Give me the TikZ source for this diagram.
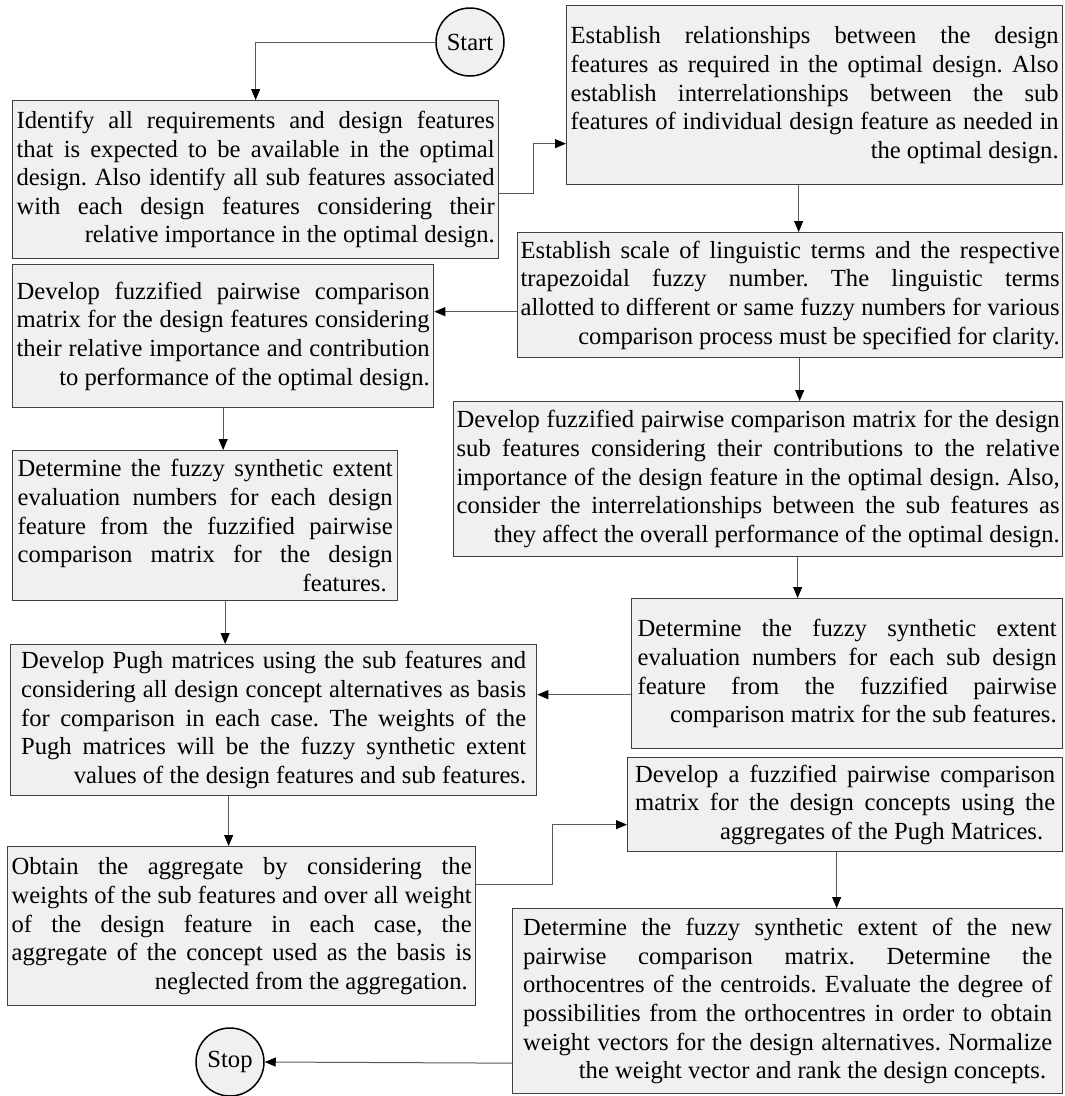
\documentclass[tikz,border=0pt]{standalone}
\usepackage{fontspec}
\setmainfont{Liberation Serif}[Ligatures=NoCommon]
\usetikzlibrary{arrows.meta}
\newcommand\J[1]{\hbox to \hsize{\spaceskip=0pt\xspaceskip=0pt\frenchspacing #1}}
\newcommand\R[1]{\hbox to \hsize{\spaceskip=0pt\xspaceskip=0pt\frenchspacing\hfill #1}}
\tikzset{
  box/.style={draw=black!75, line width=1.3pt, fill=black!6, anchor=north west,
    inner xsep=4pt, inner ysep=0pt, font=\fontsize{24.6}{28.6}\selectfont},
  term/.style={circle, draw=black, line width=1.5pt, fill=black!6, minimum size=68pt,
    inner sep=0pt, font=\fontsize{24.6}{28.6}\selectfont},
  conn/.style={draw=black!65, line width=1pt, -{Triangle[length=11pt,width=9pt,color=black]}}
}
\begin{document}
\begin{tikzpicture}[x=1pt,y=-1pt]
\useasboundingbox (0,0) rectangle (1065,1096);

\node[term] (start) at (470,42) {Start};
\node[term] (stop) at (230,1062) {Stop};

\node[box, minimum width=486pt, minimum height=158pt, text width=478pt] (b1) at (12,100) {%
\J{Identify all requirements and design features}
\J{that is expected to be available in the optimal}
\J{design. Also identify all sub features associated}
\J{with each design features considering their}
\R{relative importance in the optimal design.}};

\node[box, minimum width=496pt, minimum height=179pt, text width=488pt] (b2) at (566,5) {%
\J{Establish relationships between the design}
\J{features as required in the optimal design. Also}
\J{establish interrelationships between the sub}
\J{features of individual design feature as needed in}
\R{the optimal design.}};

\node[box, minimum width=545pt, minimum height=125pt, text width=539pt, inner xsep=3pt] (b3) at (517,232) {%
\J{Establish scale of linguistic terms and the respective}
\J{trapezoidal fuzzy number. The linguistic terms}
\J{allotted to different or same fuzzy numbers for various}
\R{comparison process must be specified for clarity.}};

\node[box, minimum width=421pt, minimum height=143pt, text width=413pt] (b4) at (12,264) {%
\J{Develop fuzzified pairwise comparison}
\J{matrix for the design features considering}
\J{their relative importance and contribution}
\R{to performance of the optimal design.}};

\node[box, minimum width=385pt, minimum height=150pt, text width=375pt] (b5) at (12,450) {%
\J{Determine the fuzzy synthetic extent}
\J{evaluation numbers for each design}
\J{feature from the fuzzified pairwise}
\J{comparison matrix for the design}
\R{features.\hspace{6pt}}};

\node[box, minimum width=609pt, minimum height=155pt, text width=603pt, inner xsep=3pt] (b6) at (453,401) {%
\J{Develop fuzzified pairwise comparison matrix for the design}
\J{sub features considering their contributions to the relative}
\J{importance of the design feature in the optimal design. Also,}
\J{consider the interrelationships between the sub features as}
\R{they affect the overall performance of the optimal design.}};

\node[box, minimum width=431pt, minimum height=150pt, text width=419pt] (b7) at (631,598) {%
\J{Determine the fuzzy synthetic extent}
\J{evaluation numbers for each sub design}
\J{feature from the fuzzified pairwise}
\R{comparison matrix for the sub features.}};

\node[box, minimum width=526pt, minimum height=151pt, text width=505pt] (b8) at (10,644) {%
\J{Develop Pugh matrices using the sub features and}
\J{considering all design concept alternatives as basis}
\J{for comparison in each case. The weights of the}
\J{Pugh matrices will be the fuzzy synthetic extent}
\R{values of the design features and sub features.}};

\node[box, minimum width=435pt, minimum height=94pt, text width=420pt] (b9) at (627,757) {%
\J{Develop a fuzzified pairwise comparison}
\J{matrix for the design concepts using the}
\R{aggregates of the Pugh Matrices.\hspace{12pt}}};

\node[box, minimum width=468pt, minimum height=159pt, text width=460pt] (b10) at (7,846) {%
\J{Obtain the aggregate by considering the}
\J{weights of the sub features and over all weight}
\J{of the design feature in each case, the}
\J{aggregate of the concept used as the basis is}
\R{neglected from the aggregation.\hspace{4pt}}};

\node[box, minimum width=550pt, minimum height=185pt, text width=529pt] (b11) at (512,908) {%
\J{Determine the fuzzy synthetic extent of the new}
\J{pairwise comparison matrix. Determine the}
\J{orthocentres of the centroids. Evaluate the degree of}
\J{possibilities from the orthocentres in order to obtain}
\J{weight vectors for the design alternatives. Normalize}
\R{the weight vector and rank the design concepts.\hspace{6pt}}};

% connectors
\draw[conn] (start.west) -| (b1.north);
\draw[conn] ([yshift=-14pt]b1.east) -- ++(34,0) |- ([yshift=-48.5pt]b2.west);
\draw[conn] ([xshift=-16pt]b2.south) -- ([xshift=-16pt]b2.south |- b3.north);
\draw[conn] ([yshift=-16.5pt]b3.west) -- ([yshift=-16.5pt]b3.west -| b4.east);
\draw[conn] (b4.south) -- (b4.south |- b5.north);
\draw[conn] ([xshift=9.5pt]b3.south) -- ([xshift=9.5pt]b3.south |- b6.north);
\draw[conn] ([xshift=39.5pt]b6.south) -- ([xshift=39.5pt]b6.south |- b7.north);
\draw[conn] ([yshift=-21pt]b7.west) -- ([yshift=-21pt]b7.west -| b8.east);
\draw[conn] ([xshift=20pt]b5.south) -- ([xshift=20pt]b5.south |- b8.north);
\draw[conn] ([xshift=-45pt]b8.south) -- ([xshift=-45pt]b8.south |- b10.north);
\draw[conn] ([yshift=41.5pt]b10.east) -- ++(76,0) |- ([yshift=-20pt]b9.west);
\draw[conn] ([xshift=-8.5pt]b9.south) -- ([xshift=-8.5pt]b9.south |- b11.north);
\draw[conn] ([yshift=-62pt]b11.west) -- (stop.east);
\end{tikzpicture}
\end{document}
